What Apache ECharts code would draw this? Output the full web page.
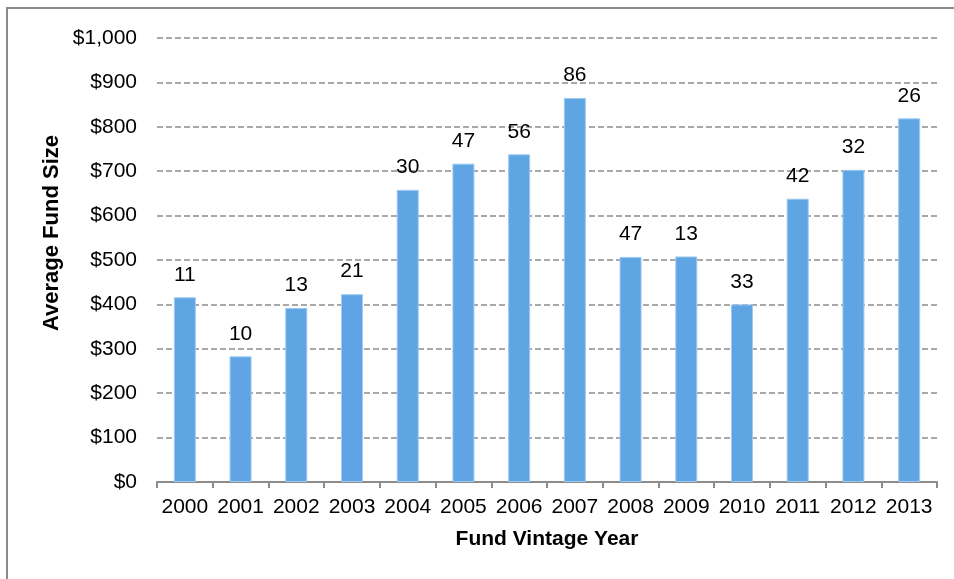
<!DOCTYPE html>
<html>
<head>
<meta charset="utf-8">
<script src="https://cdn.jsdelivr.net/npm/echarts@6/dist/echarts.min.js"></script>
<style>html,body{margin:0;padding:0;background:#fff;}#c{width:954px;height:579px;}</style>
</head>
<body>
<div id="c"></div>
<script>
const years = ['2000','2001','2002','2003','2004','2005','2006','2007','2008','2009','2010','2011','2012','2013'];
const avgFundSize = [416, 283, 392, 423, 658, 717, 738, 865, 507, 508, 400, 638, 703, 819];
const fundCount = [11, 10, 13, 21, 30, 47, 56, 86, 47, 13, 33, 42, 32, 26];
const yMin = 0, yMax = 1000, yStep = 100;

const FONT = '"Liberation Sans", Arial, sans-serif';
const chart = echarts.init(document.getElementById('c'), null, {renderer: 'canvas'});
chart.setOption({
  animation: false,
  backgroundColor: '#ffffff',
  textStyle: {fontFamily: FONT},
  grid: {left: 157, right: 17, top: 38, bottom: 97, containLabel: false},
  graphic: [
    {type: 'rect', shape: {x: 7, y: 8, width: 980, height: 620}, style: {fill: 'none', stroke: '#8a8a8a', lineWidth: 2}, silent: true},
    {type: 'text', x: 52, y: 233, rotation: Math.PI / 2,
     style: {text: 'Average Fund Size', font: 'bold 22px ' + FONT, fill: '#000', align: 'center', verticalAlign: 'middle'}}
  ],
  xAxis: {
    type: 'category',
    data: years,
    name: 'Fund Vintage Year',
    nameLocation: 'middle',
    nameGap: 47,
    nameTextStyle: {fontSize: 21, fontWeight: 'bold', color: '#000', fontFamily: FONT},
    axisLine: {lineStyle: {color: '#8c8c8c', width: 2}},
    axisTick: {show: true, length: 6, lineStyle: {color: '#8c8c8c', width: 2}},
    axisLabel: {fontSize: 21, color: '#000', margin: 15, fontFamily: FONT, interval: 0}
  },
  yAxis: {
    type: 'value',
    min: yMin, max: yMax, interval: yStep,
    axisLine: {show: false},
    axisTick: {show: false},
    axisLabel: {fontSize: 21, color: '#000', margin: 20, fontFamily: FONT,
      formatter: v => '$' + v.toLocaleString('en-US')},
    splitLine: {lineStyle: {color: '#8c8c8c', width: 1.6, type: [6, 3]}}
  },
  series: [{
    type: 'bar',
    data: avgFundSize,
    barWidth: 22,
    itemStyle: {color: '#5fa5e3', borderColor: '#9ccaf0', borderWidth: 1},
    label: {
      show: true, position: 'top', distance: 12,
      fontSize: 21, color: '#000', fontFamily: FONT,
      formatter: p => String(fundCount[p.dataIndex])
    },
    z: 3
  }]
});
</script>
</body>
</html>
